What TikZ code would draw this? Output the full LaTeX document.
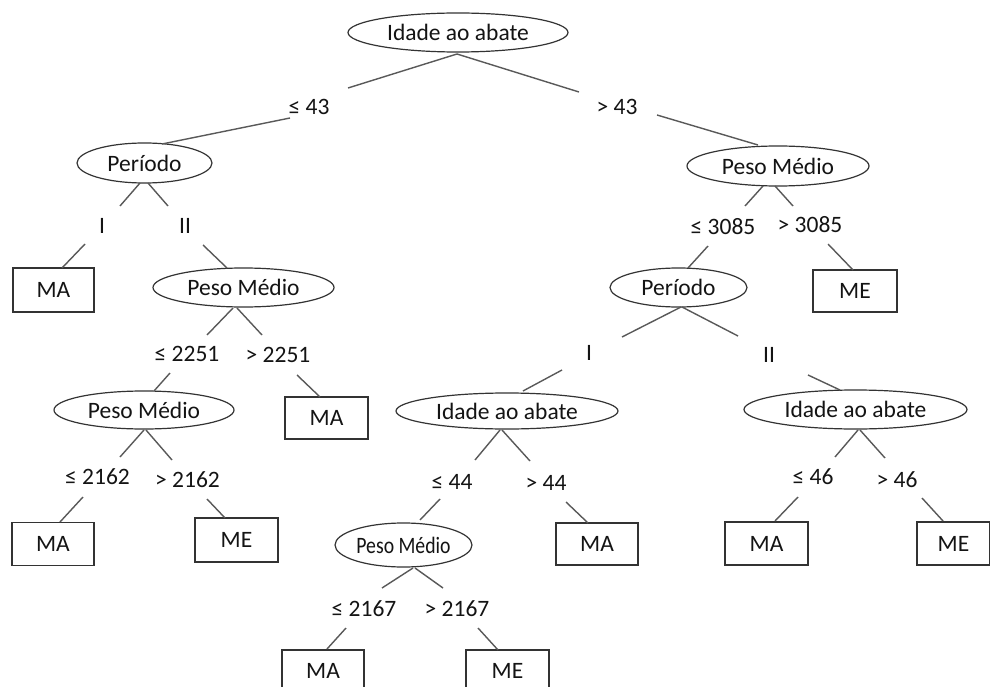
\documentclass[tikz,border=0pt]{standalone}
\usepackage{fontspec}
\usepackage{graphicx}
\setmainfont{Carlito}
\usetikzlibrary{shapes.geometric}
\begin{document}
\begin{tikzpicture}[x=1pt,y=-1pt,
  every node/.style={font=\fontsize{23.5}{28}\selectfont, text=black!92},
  dec/.style={ellipse, draw=black!80, line width=1.2pt, inner sep=0pt},
  leaf/.style={draw=black!80, line width=1.2pt, inner sep=0pt},
  lbl/.style={inner sep=1pt},
  br/.style={draw=black!65, line width=1.4pt}]
\useasboundingbox (0,0) rectangle (990,687);
\clip (0,0) rectangle (990,687);
\fill[white] (0,0) rectangle (990,687);

% decision nodes
\node[dec, minimum width=220, minimum height=39] (root) at (458,32.5) {Idade ao abate};
\node[dec, minimum width=135, minimum height=40] (perL) at (144.5,163) {Período};
\node[dec, minimum width=182, minimum height=40] (pmR) at (778,166) {Peso Médio};
\node[dec, minimum width=181, minimum height=39] (pm1) at (243.5,287.5) {Peso Médio};
\node[dec, minimum width=180, minimum height=38] (pm2) at (144,410) {Peso Médio};
\node[dec, minimum width=137, minimum height=39] (perR) at (678.5,287.5) {Período};
\node[dec, minimum width=222, minimum height=36] (iaM) at (507,411) {Idade ao abate};
\node[dec, minimum width=223, minimum height=39] (iaR) at (855.5,409.5) {Idade ao abate};
\node[dec, minimum width=137, minimum height=44] (pm3) at (403.5,545) {\scalebox{0.84}[1]{Peso Médio}};

% leaves
\node[leaf, minimum width=81, minimum height=44] (ma1) at (53.5,290) {MA};
\node[leaf, minimum width=83, minimum height=42] (ma2) at (326.5,418) {MA};
\node[leaf, minimum width=82, minimum height=43] (ma3) at (53,544) {MA};
\node[leaf, minimum width=83, minimum height=44] (me1) at (236.5,540) {ME};
\node[leaf, minimum width=84, minimum height=42] (me2) at (855,291) {ME};
\node[leaf, minimum width=82, minimum height=42] (ma4) at (597,544) {MA};
\node[leaf, minimum width=83, minimum height=43] (ma5) at (766.5,543.5) {MA};
\node[leaf, minimum width=73, minimum height=43] (me3) at (953.5,543.5) {ME};
\node[leaf, minimum width=82, minimum height=42] (ma6) at (323,671) {MA};
\node[leaf, minimum width=83, minimum height=42] (me4) at (507.5,671) {ME};

% branch labels
\node[lbl] (l43) at (309,107) {≤ 43};
\node[lbl] (g43) at (617,107) {> 43};
\node[lbl] (lI1) at (102,226) {I};
\node[lbl] (lII1) at (185,226) {II};
\node[lbl] (l2251) at (187,354) {≤ 2251};
\node[lbl] (g2251) at (278,355) {> 2251};
\node[lbl] (l2162) at (97.5,477) {≤ 2162};
\node[lbl] (g2162) at (187.5,480) {> 2162};
\node[lbl] (l3085) at (723,227) {≤ 3085};
\node[lbl] (g3085) at (810,225) {> 3085};
\node[lbl] (lI2) at (589,353) {I};
\node[lbl] (lII2) at (769,355) {II};
\node[lbl] (l44) at (452,482) {≤ 44};
\node[lbl] (g44) at (546,483) {> 44};
\node[lbl] (l46) at (813,477) {≤ 46};
\node[lbl] (g46) at (897,480) {> 46};
\node[lbl] (l2167) at (364,609) {≤ 2167};
\node[lbl] (g2167) at (457,609) {> 2167};

% segment end points
\coordinate (a1) at (457,54);   \coordinate (a2) at (348,88);   \coordinate (a3) at (579,92);
\coordinate (a4) at (290,118);  \coordinate (a5) at (162,144);
\coordinate (a6) at (657,115);  \coordinate (a7) at (758,145);
\coordinate (b1) at (140,183);  \coordinate (b2) at (120,206);  \coordinate (b3) at (148,183); \coordinate (b4) at (168,206);
\coordinate (b5) at (85,244);   \coordinate (b6) at (62,268);   \coordinate (b7) at (203,245); \coordinate (b8) at (227,268);
\coordinate (c1) at (233,308);  \coordinate (c2) at (207,335);  \coordinate (c3) at (237,308); \coordinate (c4) at (262,335);
\coordinate (c5) at (170,373);  \coordinate (c6) at (154,391);  \coordinate (c7) at (297,375); \coordinate (c8) at (320,397);
\coordinate (d1) at (144,430);  \coordinate (d2) at (120,457);  \coordinate (d3) at (146,430); \coordinate (d4) at (172,460);
\coordinate (d5) at (83,497);   \coordinate (d6) at (60,522);   \coordinate (d7) at (207,499); \coordinate (d8) at (225,518);
\coordinate (e1) at (763,186);  \coordinate (e2) at (745,206);  \coordinate (e3) at (775,186); \coordinate (e4) at (793,206);
\coordinate (e5) at (708,246);  \coordinate (e6) at (688,268);  \coordinate (e7) at (828,244); \coordinate (e8) at (853,270);
\coordinate (f1) at (681,307);  \coordinate (f2) at (622,337);  \coordinate (f3) at (682,307); \coordinate (f4) at (738,336);
\coordinate (f5) at (562,370);  \coordinate (f6) at (523,391);  \coordinate (f7) at (808,375); \coordinate (f8) at (840,390);
\coordinate (g1) at (500,430);  \coordinate (g2) at (475,460);  \coordinate (g3) at (502,430); \coordinate (g4) at (530,461);
\coordinate (g5) at (440,499);  \coordinate (g6) at (420,520);  \coordinate (g7) at (566,502); \coordinate (g8) at (588,523);
\coordinate (h1) at (858,430);  \coordinate (h2) at (835,457);  \coordinate (h3) at (860,430); \coordinate (h4) at (885,458);
\coordinate (h5) at (798,497);  \coordinate (h6) at (775,521);  \coordinate (h7) at (922,498); \coordinate (h8) at (943,521);
\coordinate (k1) at (413,568);  \coordinate (k2) at (382,588);  \coordinate (k3) at (415,568); \coordinate (k4) at (443,588);
\coordinate (k5) at (346,628);  \coordinate (k6) at (327,649);  \coordinate (k7) at (478,628); \coordinate (k8) at (498,650);

\draw[br] (a1) -- (a2);  \draw[br] (a1) -- (a3);
\draw[br] (a4) -- (a5);  \draw[br] (a6) -- (a7);
\draw[br] (b1) -- (b2);  \draw[br] (b3) -- (b4);
\draw[br] (b5) -- (b6);  \draw[br] (b7) -- (b8);
\draw[br] (c1) -- (c2);  \draw[br] (c3) -- (c4);
\draw[br] (c5) -- (c6);  \draw[br] (c7) -- (c8);
\draw[br] (d1) -- (d2);  \draw[br] (d3) -- (d4);
\draw[br] (d5) -- (d6);  \draw[br] (d7) -- (d8);
\draw[br] (e1) -- (e2);  \draw[br] (e3) -- (e4);
\draw[br] (e5) -- (e6);  \draw[br] (e7) -- (e8);
\draw[br] (f1) -- (f2);  \draw[br] (f3) -- (f4);
\draw[br] (f5) -- (f6);  \draw[br] (f7) -- (f8);
\draw[br] (g1) -- (g2);  \draw[br] (g3) -- (g4);
\draw[br] (g5) -- (g6);  \draw[br] (g7) -- (g8);
\draw[br] (h1) -- (h2);  \draw[br] (h3) -- (h4);
\draw[br] (h5) -- (h6);  \draw[br] (h7) -- (h8);
\draw[br] (k1) -- (k2);  \draw[br] (k3) -- (k4);
\draw[br] (k5) -- (k6);  \draw[br] (k7) -- (k8);
\end{tikzpicture}
\end{document}
